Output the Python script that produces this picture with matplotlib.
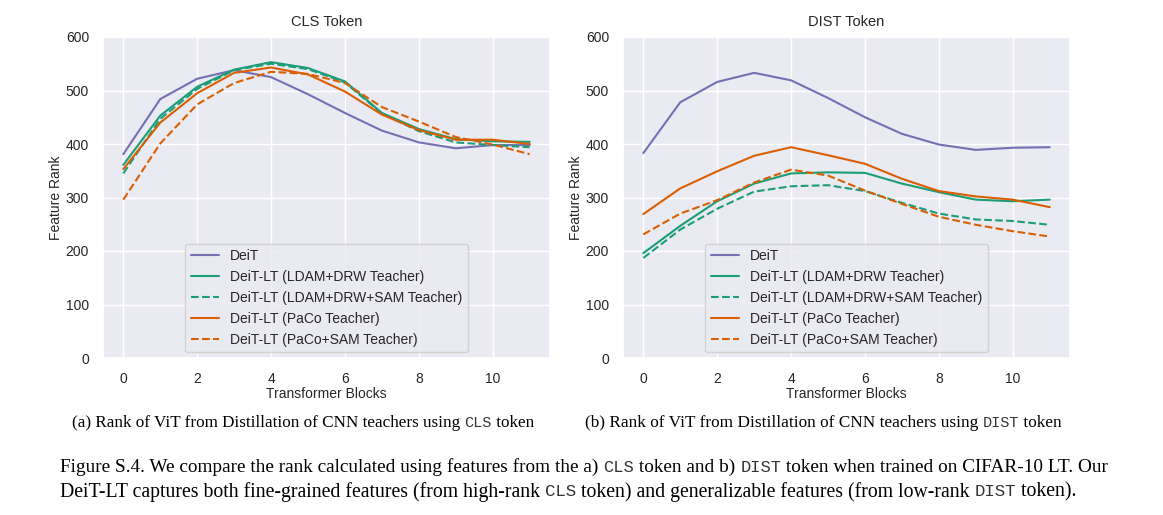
import matplotlib
matplotlib.use("Agg")
import matplotlib.pyplot as plt
import seaborn as sns

# Transformer block index
blocks = list(range(12))

labels = ["DeiT", "DeiT-LT (LDAM+DRW Teacher)", "DeiT-LT (LDAM+DRW+SAM Teacher)",
          "DeiT-LT (PaCo Teacher)", "DeiT-LT (PaCo+SAM Teacher)"]

# CLS token feature rank
cls_deit = [381, 484, 522, 538, 525, 493, 458, 425, 403, 392, 398, 398]
cls_ldam = [361, 453, 507, 539, 553, 542, 517, 458, 428, 409, 405, 404]
cls_ldam_sam = [345, 447, 503, 538, 550, 540, 515, 457, 424, 403, 398, 394]
cls_paco = [353, 440, 495, 533, 543, 530, 498, 455, 426, 408, 408, 400]
cls_paco_sam = [296, 401, 474, 514, 535, 531, 514, 469, 442, 413, 399, 381]

# DIST token feature rank
dist_deit = [383, 478, 516, 533, 519, 486, 450, 419, 399, 389, 393, 394]
dist_ldam = [196, 247, 293, 326, 345, 347, 346, 326, 310, 296, 293, 296]
dist_ldam_sam = [187, 240, 279, 311, 321, 323, 312, 290, 270, 259, 256, 249]
dist_paco = [269, 317, 349, 378, 394, 379, 363, 335, 312, 302, 296, 282]
dist_paco_sam = [231, 270, 295, 328, 352, 341, 313, 288, 264, 249, 237, 227]

sns.set_theme(style="darkgrid")
plt.rcParams["font.family"] = ["Liberation Sans", "DejaVu Sans"]

colors = ["#7570b3", "#1b9e77", "#1b9e77", "#d95f02", "#d95f02"]
styles = ["-", "-", "--", "-", "--"]

fig = plt.figure(figsize=(11.63, 5.15), dpi=100)
W, H = 1163, 515
ax1 = fig.add_axes([103 / W, 1 - 358 / H, 447 / W, 321 / H])
ax2 = fig.add_axes([623 / W, 1 - 358 / H, 447 / W, 321 / H])

panels = [
    (ax1, "CLS Token", [cls_deit, cls_ldam, cls_ldam_sam, cls_paco, cls_paco_sam]),
    (ax2, "DIST Token", [dist_deit, dist_ldam, dist_ldam_sam, dist_paco, dist_paco_sam]),
]
for ax, title, series in panels:
    for vals, lab, c, ls in zip(series, labels, colors, styles):
        ax.plot(blocks, vals, color=c, linestyle=ls, linewidth=1.5, label=lab)
    ax.set_ylim(0, 600)
    ax.set_xticks([0, 2, 4, 6, 8, 10])
    ax.set_yticks([0, 100, 200, 300, 400, 500, 600])
    ax.tick_params(labelsize=10, pad=4)
    ax.set_title(title, fontsize=10.5, pad=8)
    ax.set_xlabel("Transformer Blocks", fontsize=10, labelpad=1)
    ax.set_ylabel("Feature Rank", fontsize=10, labelpad=2)
    ax.legend(loc="lower center", fontsize=10, borderaxespad=0.4)

renderer = fig.canvas.get_renderer()


def draw_line(x0, y, segments, size, target=None):
    """Draw text segments one after the other, optionally fit to a pixel width."""
    def layout(sz, draw):
        x = x0
        items = []
        for txt, fam in segments:
            s = sz * 0.88 if fam == mono else sz
            t = fig.text(x / W, 1 - y / H, txt, family=fam, fontsize=s,
                         va="center", ha="left",
                         color="#333333" if fam == mono else "black")
            w = t.get_window_extent(renderer).width
            items.append(t)
            x += w
        if not draw:
            for t in items:
                t.remove()
        return x - x0
    if target is not None:
        width = layout(size, False)
        size = size * target / width
    layout(size, True)


serif = "Liberation Serif"
mono = "Liberation Mono"

draw_line(72, 423, [("(a) Rank of ViT from Distillation of CNN teachers using ", serif),
                    ("CLS", mono), (" token", serif)], 10, target=464)
draw_line(585, 423, [("(b) Rank of ViT from Distillation of CNN teachers using ", serif),
                     ("DIST", mono), (" token", serif)], 10, target=476)
draw_line(60, 467, [("Figure S.4. We compare the rank calculated using features from the a) ", serif),
                    ("CLS", mono), (" token and b) ", serif), ("DIST", mono),
                    (" token when trained on CIFAR-10 LT. Our", serif)], 11, target=1050)
draw_line(60, 492, [("DeiT-LT captures both fine-grained features (from high-rank ", serif),
                    ("CLS", mono), (" token) and generalizable features (from low-rank ", serif),
                    ("DIST", mono), (" token).", serif)], 11, target=1015)

fig.savefig("out.png", dpi=100)
